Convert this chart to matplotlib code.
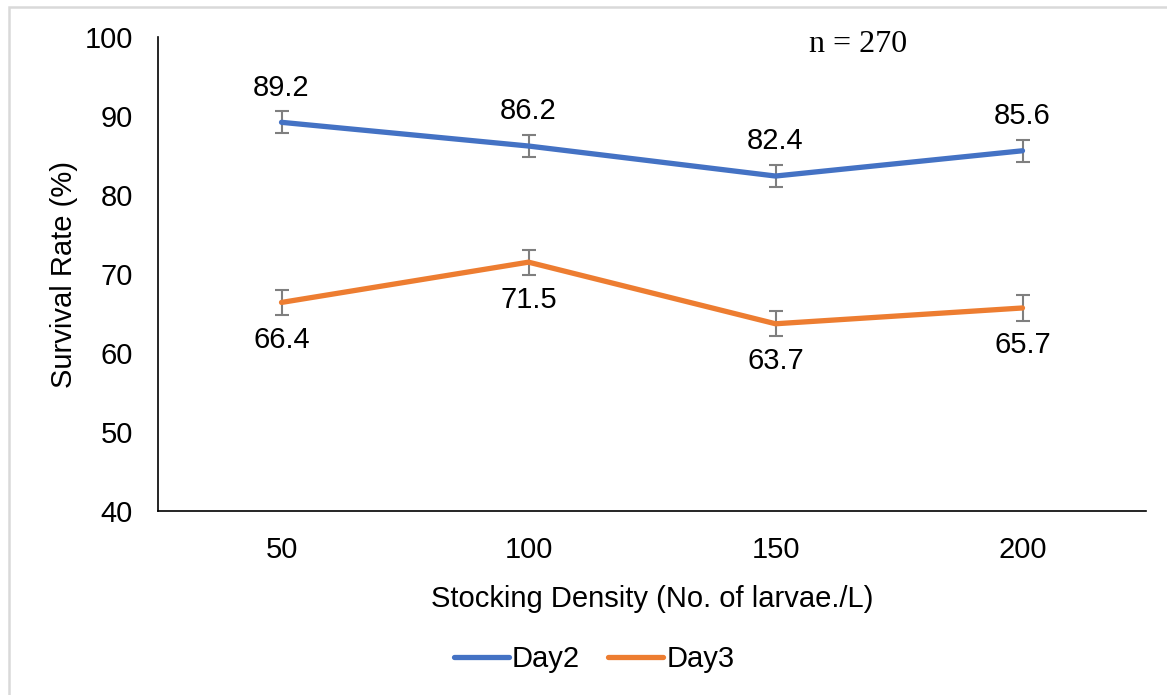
import matplotlib
matplotlib.use("Agg")
import matplotlib.pyplot as plt
from matplotlib.patches import Rectangle
from matplotlib.lines import Line2D

# Survival data by stocking density
densities = ["50", "100", "150", "200"]
day2 = [89.2, 86.2, 82.4, 85.6]
day3 = [66.4, 71.5, 63.7, 65.7]
day2_err = [1.4, 1.4, 1.4, 1.4]
day3_err = [1.6, 1.6, 1.6, 1.6]
y_ticks = [40, 50, 60, 70, 80, 90, 100]

BLUE = "#4472C4"
ORANGE = "#ED7D31"
GREY = "#7F7F7F"
FS = 21

plt.rcParams["font.family"] = ["Liberation Sans", "DejaVu Sans"]

W, H = 1167, 695
fig = plt.figure(figsize=(W / 100, H / 100), dpi=100)
fig.patch.set_facecolor("white")

# light frame around the chart area
fig.patches.append(Rectangle((8.5 / W, -0.1), 1.2, 1.1 - 7 / H, transform=fig.transFigure,
                             fill=False, edgecolor="#D9D9D9", linewidth=1.8, zorder=0))

ax = fig.add_axes([158 / W, 1 - 511 / H, (1146 - 158) / W, (511 - 37) / H])
x = list(range(len(densities)))

ax.errorbar(x, day2, yerr=day2_err, color=BLUE, lw=3.8, ecolor=GREY, elinewidth=1.5,
            capsize=5, capthick=1.5, solid_capstyle="round", zorder=3)
ax.errorbar(x, day3, yerr=day3_err, color=ORANGE, lw=3.8, ecolor=GREY, elinewidth=1.5,
            capsize=5, capthick=1.5, solid_capstyle="round", zorder=3)

for xi, v in zip(x, day2):
    ax.annotate(f"{v:.1f}", (xi, v), xytext=(0, 25), textcoords="offset points",
                ha="center", va="center", fontsize=FS)
for xi, v in zip(x, day3):
    ax.annotate(f"{v:.1f}", (xi, v), xytext=(0, -27), textcoords="offset points",
                ha="center", va="center", fontsize=FS)

ax.set_xlim(-0.5, len(densities) - 0.5)
ax.set_ylim(40, 100)
ax.set_xticks(x)
ax.set_xticklabels(densities)
ax.set_yticks(y_ticks)
ax.tick_params(axis="x", length=0, labelsize=FS, pad=18)
ax.tick_params(axis="y", length=0, labelsize=FS, pad=18)

for side in ("top", "right"):
    ax.spines[side].set_visible(False)
ax.spines["left"].set_linewidth(1.2)
ax.spines["bottom"].set_linewidth(1.2)

ax.set_xlabel("Stocking Density (No. of larvae./L)", fontsize=FS, labelpad=15)
ax.set_ylabel("Survival Rate (%)", fontsize=FS, labelpad=5)

ax.text(858 / W, 1 - 45 / H, "n = 270", transform=fig.transFigure, ha="center",
        va="center", fontsize=23, family=["Liberation Serif", "DejaVu Serif"])

handles = [Line2D([], [], color=BLUE, lw=3.8, solid_capstyle="round"),
           Line2D([], [], color=ORANGE, lw=3.8, solid_capstyle="round")]
fig.legend(handles=handles, labels=["Day2", "Day3"], loc="center",
           bbox_to_anchor=(594 / W, 1 - 659 / H), ncol=2, frameon=False,
           fontsize=FS, handlelength=1.9, handletextpad=0.1, columnspacing=0.95)

fig.savefig("out.png", dpi=100, facecolor="white")
